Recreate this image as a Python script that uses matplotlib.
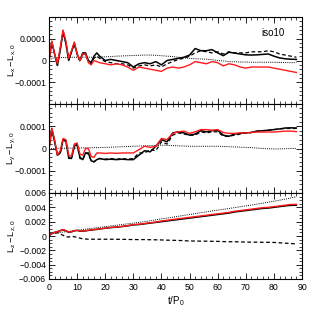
import matplotlib
matplotlib.use("Agg")
import matplotlib.pyplot as plt
from matplotlib.ticker import FixedLocator, FixedFormatter, MultipleLocator
import numpy as np

plt.rcParams['font.family'] = ['Liberation Sans', 'DejaVu Sans']
plt.rcParams['mathtext.fontset'] = 'custom'
plt.rcParams['mathtext.rm'] = 'Liberation Sans'
plt.rcParams['mathtext.it'] = 'Liberation Sans:italic'

t = [0, 1, 2, 3, 4, 5, 6, 7, 8, 9, 10, 11, 12, 13, 14, 15, 16, 17, 18, 20, 22, 24, 26, 28,
     30, 32, 34, 36, 38, 40, 42, 44, 46, 48, 50, 52, 54, 56, 58, 60, 62, 64, 66, 68, 70, 72,
     74, 76, 78, 80, 82, 84, 86, 88]

# Panel 1: Lx - Lx0 (units of 1e-4)
lx_solid = [0, 0.85, 0.3, -0.23, 0.5, 1.35, 0.8, 0.0, 0.4, 0.8, 0.3, 0.0, 0.35, 0.35, 0.0, -0.1,
            0.2, 0.35, 0.2, 0.0, 0.05, 0.0, -0.05, -0.1, -0.3, -0.15, -0.1, -0.15, -0.05, -0.2,
            0.0, 0.05, 0.1, 0.15, 0.25, 0.55, 0.45, 0.45, 0.5, 0.35, 0.22, 0.38, 0.34, 0.3, 0.26,
            0.25, 0.26, 0.28, 0.3, 0.2, 0.12, 0.08, 0.06, 0.05]
lx_dash = [0, 0.8, 0.3, -0.2, 0.5, 1.3, 0.8, 0.05, 0.4, 0.75, 0.3, -0.05, 0.3, 0.3, -0.05, -0.15,
           0.1, 0.2, 0.1, -0.05, -0.1, -0.15, -0.15, -0.2, -0.35, -0.25, -0.2, -0.25, -0.2, -0.3,
           -0.15, -0.05, 0.05, 0.1, 0.2, 0.35, 0.45, 0.4, 0.35, 0.4, 0.3, 0.4, 0.35, 0.35, 0.35,
           0.4, 0.4, 0.4, 0.45, 0.4, 0.3, 0.25, 0.2, 0.15]
lx_red = [0, 0.9, 0.3, -0.15, 0.6, 1.4, 0.9, 0.1, 0.45, 0.85, 0.3, 0.0, 0.3, 0.3, -0.1, -0.2,
          0.0, -0.05, -0.1, -0.15, -0.2, -0.15, -0.2, -0.3, -0.45, -0.3, -0.35, -0.4, -0.45, -0.5,
          -0.35, -0.3, -0.35, -0.3, -0.2, -0.05, -0.1, -0.15, -0.05, -0.1, -0.25, -0.15, -0.2,
          -0.3, -0.35, -0.3, -0.3, -0.3, -0.3, -0.35, -0.4, -0.45, -0.5, -0.55]
lx_dot = [0, 0.1, 0.12, 0.13, 0.13, 0.14, 0.14, 0.14, 0.15, 0.15, 0.15, 0.15, 0.15, 0.15, 0.15,
          0.15, 0.15, 0.16, 0.16, 0.17, 0.18, 0.2, 0.21, 0.22, 0.23, 0.24, 0.25, 0.25, 0.24, 0.22,
          0.2, 0.18, 0.15, 0.12, 0.1, 0.08, 0.07, 0.06, 0.04, 0.0, -0.02, -0.05, -0.06, -0.07,
          -0.07, -0.08, -0.08, -0.08, -0.08, -0.08, -0.09, -0.09, -0.1, -0.1]

# Panel 2: Ly - Ly0 (units of 1e-4)
ly_solid = [0, 0.89, 0.3, -0.3, -0.2, 0.4, 0.35, -0.4, -0.45, 0.1, 0.2, -0.4, -0.5, -0.2, -0.2,
            -0.55, -0.6, -0.5, -0.45, -0.5, -0.48, -0.5, -0.48, -0.5, -0.5, -0.3, -0.1, -0.15,
            0.1, 0.4, 0.3, 0.7, 0.75, 0.7, 0.6, 0.65, 0.8, 0.75, 0.8, 0.82, 0.6, 0.55, 0.65,
            0.68, 0.7, 0.72, 0.78, 0.8, 0.82, 0.85, 0.88, 0.92, 0.93, 0.92]
ly_dash = [0, 0.85, 0.3, -0.3, -0.2, 0.4, 0.3, -0.45, -0.45, 0.1, 0.15, -0.45, -0.5, -0.2, -0.25,
           -0.55, -0.6, -0.5, -0.45, -0.48, -0.45, -0.48, -0.45, -0.48, -0.45, -0.2, -0.2, -0.05,
           -0.1, 0.3, 0.2, 0.6, 0.7, 0.65, 0.6, 0.6, 0.75, 0.7, 0.75, 0.75, 0.55, 0.55, 0.6, 0.65,
           0.7, 0.72, 0.78, 0.8, 0.82, 0.85, 0.88, 0.9, 0.9, 0.9]
ly_red = [0, 0.92, 0.4, -0.3, -0.1, 0.45, 0.4, -0.3, -0.35, 0.2, 0.25, -0.25, -0.3, 0.0, 0.0,
          -0.35, -0.4, -0.2, -0.2, -0.22, -0.2, -0.22, -0.2, -0.2, -0.2, -0.05, 0.1, 0.05, 0.1,
          0.45, 0.4, 0.68, 0.75, 0.78, 0.68, 0.75, 0.85, 0.85, 0.82, 0.85, 0.72, 0.68, 0.68, 0.7,
          0.7, 0.72, 0.74, 0.74, 0.74, 0.74, 0.76, 0.78, 0.78, 0.76]
ly_dot = [0, 0.0, 0.0, 0.01, 0.01, 0.01, 0.01, 0.02, 0.02, 0.02, 0.02, 0.02, 0.03, 0.03, 0.03,
          0.03, 0.04, 0.04, 0.04, 0.05, 0.06, 0.07, 0.08, 0.09, 0.1, 0.11, 0.12, 0.13, 0.14, 0.15,
          0.14, 0.13, 0.12, 0.11, 0.1, 0.1, 0.1, 0.1, 0.1, 0.1, 0.09, 0.08, 0.07, 0.06, 0.05,
          0.04, 0.02, 0.0, -0.01, -0.02, -0.02, -0.01, 0.0, 0.0]

# Panel 3: Lz - Lz0 (units of 1e-3)
lz_solid = [0, 0.4, 0.5, 0.6, 0.75, 0.88, 0.72, 0.52, 0.58, 0.72, 0.78, 0.68, 0.68, 0.72, 0.78,
            0.82, 0.88, 0.92, 0.98, 1.08, 1.18, 1.23, 1.32, 1.42, 1.55, 1.6, 1.7, 1.8, 1.9, 2.0,
            2.1, 2.2, 2.3, 2.4, 2.5, 2.6, 2.7, 2.8, 2.9, 3.0, 3.1, 3.2, 3.35, 3.45, 3.55, 3.65,
            3.75, 3.85, 3.9, 4.0, 4.1, 4.2, 4.28, 4.3]
lz_dash = [0.15, 0.3, 0.4, 0.45, 0.3, 0.1, -0.1, -0.15, -0.05, -0.1, -0.2, -0.3, -0.4, -0.42,
           -0.45, -0.45, -0.45, -0.45, -0.45, -0.45, -0.45, -0.46, -0.47, -0.48, -0.5, -0.5,
           -0.5, -0.52, -0.53, -0.55, -0.58, -0.6, -0.62, -0.65, -0.7, -0.7, -0.72, -0.72, -0.74,
           -0.75, -0.78, -0.8, -0.8, -0.82, -0.85, -0.86, -0.86, -0.88, -0.88, -0.9, -0.95, -1.0,
           -1.05, -1.1]
lz_red = [0, 0.4, 0.5, 0.6, 0.75, 0.9, 0.75, 0.55, 0.6, 0.75, 0.8, 0.7, 0.7, 0.75, 0.8, 0.85,
          0.9, 0.95, 1.0, 1.1, 1.2, 1.25, 1.35, 1.45, 1.6, 1.65, 1.75, 1.85, 1.95, 2.1, 2.2, 2.3,
          2.4, 2.5, 2.6, 2.7, 2.8, 2.9, 3.0, 3.1, 3.2, 3.3, 3.45, 3.55, 3.65, 3.75, 3.85, 3.95,
          4.0, 4.1, 4.2, 4.3, 4.4, 4.42]
lz_dot = [0.3, 0.35, 0.4, 0.45, 0.5, 0.55, 0.6, 0.65, 0.7, 0.75, 0.8, 0.85, 0.9, 0.95, 1.0, 1.05,
          1.1, 1.15, 1.2, 1.3, 1.4, 1.5, 1.6, 1.7, 1.8, 1.9, 2.0, 2.12, 2.25, 2.4, 2.5, 2.62, 2.75,
          2.88, 3.0, 3.12, 3.25, 3.37, 3.5, 3.6, 3.72, 3.84, 3.96, 4.08, 4.2, 4.32, 4.45, 4.58,
          4.72, 4.85, 5.0, 5.15, 5.3, 5.5]

W, H = 319, 319
fig = plt.figure(figsize=(W / 100, H / 100), dpi=100)
left, right = 49 / W, 302 / W
edges = [17, 104, 193, 279]
axes = []
for i in range(3):
    bottom = 1 - edges[i + 1] / H
    height = (edges[i + 1] - edges[i]) / H
    axes.append(fig.add_axes([left, bottom, right - left, height]))

fs = 6.3
specs = [
    (axes[0], 1e-4, [lx_solid, lx_dash, lx_red, lx_dot], (-0.0002, 0.0002),
     [-0.0001, 0, 0.0001], ['\u22120.0001', '0', '0.0001'], 0.00002,
     r'$\mathrm{L_x-L_{x,0}}$'),
    (axes[1], 1e-4, [ly_solid, ly_dash, ly_red, ly_dot], (-0.0002, 0.0002),
     [-0.0001, 0, 0.0001], ['\u22120.0001', '0', '0.0001'], 0.00002,
     r'$\mathrm{L_y-L_{y,0}}$'),
    (axes[2], 1e-3, [lz_solid, lz_dash, lz_red, lz_dot], (-0.006, 0.006),
     [-0.006, -0.004, -0.002, 0, 0.002, 0.004, 0.006],
     ['\u22120.006', '\u22120.004', '\u22120.002', '0', '0.002', '0.004', '0.006'], 0.0005,
     r'$\mathrm{L_z-L_{z,0}}$'),
]

tt = np.array(t, dtype=float)
for ax, scale, (s, d, r, o), ylim, yt, ylab, ymin, lab in specs:
    ax.plot(tt, np.array(o) * scale, color='black', lw=0.7, ls=(0, (1, 1.2)))
    ax.plot(tt, np.array(d) * scale, color='black', lw=0.9, ls=(0, (3, 2)))
    ax.plot(tt, np.array(s) * scale, color='black', lw=1.1)
    ax.plot(tt, np.array(r) * scale, color='#ff1a1a', lw=1.0)
    ax.set_xlim(0, 90)
    ax.set_ylim(*ylim)
    ax.yaxis.set_major_locator(FixedLocator(yt))
    ax.yaxis.set_major_formatter(FixedFormatter(ylab))
    ax.yaxis.set_minor_locator(MultipleLocator(ymin))
    ax.xaxis.set_major_locator(MultipleLocator(10))
    ax.xaxis.set_minor_locator(MultipleLocator(2))
    ax.tick_params(which='both', direction='in', top=True, right=True, labelsize=fs, pad=2)
    ax.tick_params(which='major', length=4, width=0.6)
    ax.tick_params(which='minor', length=2, width=0.5)
    for sp in ax.spines.values():
        sp.set_linewidth(0.8)
    ax.set_ylabel(lab, fontsize=fs + 0.3)
    ax.yaxis.set_label_coords(-0.122, 0.5)
    if ax is not axes[2]:
        ax.tick_params(labelbottom=False)

axes[2].set_xticks([0, 10, 20, 30, 40, 50, 60, 70, 80, 90])
axes[2].set_xticklabels(['0', '10', '20', '30', '40', '50', '60', '70', '80', '90'])
axes[2].tick_params(axis='x', pad=3)
axes[2].set_xlabel(r'$\mathrm{t/P_0}$', fontsize=fs + 0.7, labelpad=1.5)
axes[0].text(0.885, 0.815, 'iso10', transform=axes[0].transAxes, fontsize=7,
             ha='center', va='center')

fig.savefig('out.png', dpi=100)
